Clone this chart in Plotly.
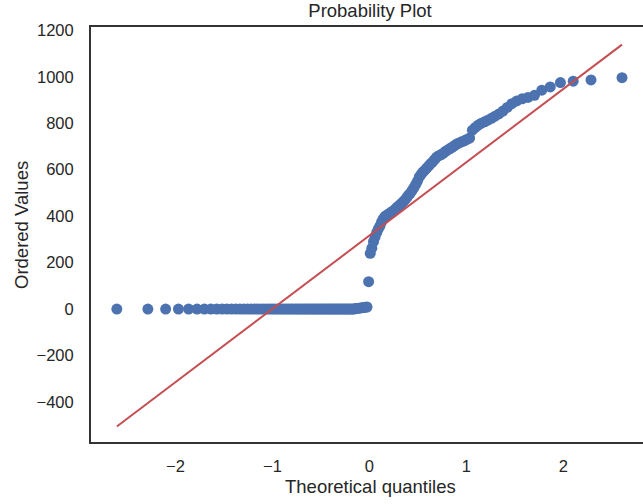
import numpy as np
import plotly.graph_objects as go
from statistics import NormalDist

low_values = [
    0, 0, 0, 0, 0, 0, 0, 0, 0, 0,
    0, 0, 0, 0, 0, 0, 0, 0, 0, 0,
    0, 0, 0, 0, 0, 0, 0, 0, 0, 0,
    0, 0, 0, 0, 0, 0, 0, 0, 0, 0,
    0, 0, 0, 0, 0, 0, 0, 0, 0, 0,
    0, 0, 0, 0, 0, 0, 0, 0, 0, 0,
    0, 0, 0, 0, 0, 0, 2, 3, 4, 5,
    6, 7, 8, 9,
]
high_values = [
    118, 240, 262, 290, 310, 330, 345, 358, 375, 388,
    398, 403, 408, 412, 418, 422, 428, 436, 442, 448,
    455, 462, 470, 480, 490, 498, 510, 522, 536, 550,
    568, 580, 590, 598, 607, 616, 626, 634, 644, 654,
    660, 664, 670, 678, 684, 690, 696, 703, 710, 715,
    720, 724, 730, 736, 770, 782, 792, 800, 806, 813,
    821, 830, 840, 852, 868, 884, 896, 905, 911, 920,
    942, 956, 975, 981, 986, 996,
]
ordered_values = np.array(low_values + high_values, dtype=float)

x_tickvals = [-2, -1, 0, 1, 2]
x_ticktext = ["\u22122", "\u22121", "0", "1", "2"]
y_tickvals = [-400, -200, 0, 200, 400, 600, 800, 1000, 1200]
y_ticktext = ["\u2212400", "\u2212200", "0", "200", "400", "600", "800", "1000", "1200"]

# Theoretical normal quantiles (Filliben order statistic medians, as scipy.stats.probplot)
n = len(ordered_values)
m = (np.arange(1, n + 1) - 0.3175) / (n + 0.365)
m[-1] = 0.5 ** (1.0 / n)
m[0] = 1 - m[-1]
nd = NormalDist()
osm = np.array([nd.inv_cdf(p) for p in m])

slope, intercept = np.polyfit(osm, ordered_values, 1)
fit_line = slope * osm + intercept

BLUE = "#4c72b0"
RED = "#c44e52"
TXT = "#262626"
FONT = "Liberation Sans, Arial, sans-serif"

fig = go.Figure()
fig.add_trace(go.Scatter(
    x=osm, y=ordered_values, mode="markers",
    marker=dict(color=BLUE, size=11, line=dict(width=0)),
    showlegend=False, hoverinfo="x+y",
))
fig.add_trace(go.Scatter(
    x=osm, y=fit_line, mode="lines",
    line=dict(color=RED, width=2),
    showlegend=False, hoverinfo="skip",
))

fig.update_layout(
    width=643, height=504,
    margin=dict(l=91, r=0, t=27, b=62),
    paper_bgcolor="white", plot_bgcolor="white",
    font=dict(family=FONT, color=TXT),
    title=dict(text="Probability Plot", x=370 / 643, xanchor="center",
               y=1 - 11 / 504, yanchor="middle", yref="container",
               font=dict(size=18.5, color=TXT, family=FONT)),
    xaxis=dict(
        range=[-2.87, 2.82], tickvals=x_tickvals, ticktext=x_ticktext,
        showgrid=False, zeroline=False, showline=True, mirror=True,
        linecolor="#333333", linewidth=2, ticks="",
        tickfont=dict(size=16.5, color=TXT, family=FONT),
        ticklabelstandoff=8,
    ),
    yaxis=dict(
        range=[-572, 1214], tickvals=y_tickvals, ticktext=y_ticktext,
        showgrid=False, zeroline=False, showline=True, mirror=False,
        linecolor="#333333", linewidth=2, ticks="",
        tickfont=dict(size=16.5, color=TXT, family=FONT),
        ticklabelstandoff=12,
    ),
    annotations=[
        dict(text="Theoretical quantiles", xref="paper", yref="paper",
             x=(370 - 91) / 552, y=-(486 - 442) / 415, xanchor="center",
             yanchor="middle", showarrow=False,
             font=dict(size=18.5, color=TXT, family=FONT)),
        dict(text="Ordered Values", xref="paper", yref="paper",
             x=(22 - 91) / 552, y=(442 - 225) / 415, xanchor="center",
             yanchor="middle", textangle=-90, showarrow=False,
             font=dict(size=18.5, color=TXT, family=FONT)),
    ],
)

fig.write_html("out.html")
